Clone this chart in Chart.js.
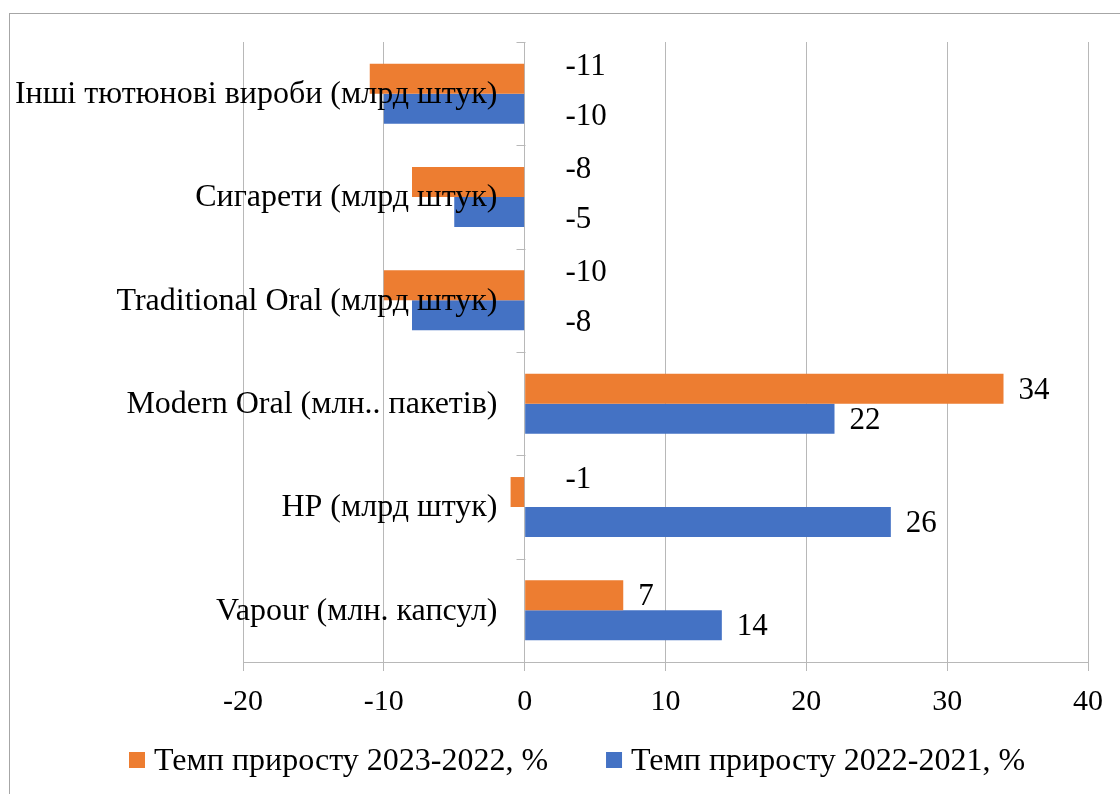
<!DOCTYPE html>
<html>
<head>
<meta charset="utf-8">
<script src="https://cdn.jsdelivr.net/npm/chart.js@4.4.1/dist/chart.umd.min.js"></script>
<style>
    html, body { margin: 0; padding: 0; background: #ffffff; }
    #wrap { width: 1120px; height: 794px; }
</style>
</head>
<body>
<div id="wrap"><canvas id="growthChart" width="1120" height="794"></canvas></div>
<script>
const categories = [
    "Інші тютюнові вироби (млрд штук)",
    "Сигарети (млрд штук)",
    "Traditional Oral (млрд штук)",
    "Modern Oral (млн.. пакетів)",
    "HP (млрд штук)",
    "Vapour (млн. капсул)"
];
const growth2023 = [-11, -8, -10, 34, -1, 7];
const growth2022 = [-10, -5, -8, 22, 26, 14];
const seriesNames = ["Темп приросту 2023-2022, %", "Темп приросту 2022-2021, %"];
const xMin = -20;
const xMax = 40;
const xStep = 10;

const FONT = '"Liberation Serif", "Times New Roman", serif';
const GRID = "#b8b8b8";

// draws the excel-like bits chart.js doesn't do by itself
const excelLook = {
    id: "excelLook",
    beforeDraw(chart) {
        const ctx = chart.ctx;
        ctx.save();
        ctx.strokeStyle = "#a6a6a6";
        ctx.lineWidth = 1;
        ctx.strokeRect(9.5, 13.5, 1200, 900);
        ctx.restore();
    },
    afterDraw(chart) {
        const ctx = chart.ctx;
        const area = chart.chartArea;
        const xs = chart.scales.x;
        const ys = chart.scales.y;
        const zeroX = Math.round(xs.getPixelForValue(0)) + 0.5;

        ctx.save();
        // category axis at zero with small ticks
        ctx.strokeStyle = GRID;
        ctx.lineWidth = 1;
        ctx.beginPath();
        const n = categories.length;
        for (let i = 0; i <= n; i++) {
            const y = Math.round(area.top + i * (area.bottom - area.top) / n) + 0.5;
            ctx.moveTo(zeroX - 9, y);
            ctx.lineTo(zeroX, y);
        }
        ctx.stroke();

        // category labels
        ctx.fillStyle = "#000000";
        ctx.font = "32px " + FONT;
        ctx.textAlign = "right";
        ctx.textBaseline = "middle";
        categories.forEach(function (label, i) {
            ctx.fillText(label, zeroX - 28, ys.getPixelForValue(i) + 1);
        });

        // data labels, negatives sit right of the zero line, pulled apart a bit
        ctx.font = "31px " + FONT;
        ctx.textAlign = "left";
        chart.data.datasets.forEach(function (ds, di) {
            const meta = chart.getDatasetMeta(di);
            meta.data.forEach(function (bar, i) {
                const v = ds.data[i];
                if (v >= 0) {
                    ctx.fillText(String(v), bar.x + 15, bar.y + 2);
                } else {
                    const shift = di === 0 ? -12 : 8;
                    ctx.fillText(String(v), zeroX + 40, bar.y + shift);
                }
            });
        });

        // legend
        ctx.font = "32px " + FONT;
        let lx = 129;
        const ly = 761;
        chart.data.datasets.forEach(function (ds) {
            ctx.fillStyle = ds.backgroundColor;
            ctx.fillRect(lx, ly - 9, 16, 16);
            ctx.fillStyle = "#000000";
            ctx.fillText(ds.label, lx + 25, ly + 1);
            lx += 25 + ctx.measureText(ds.label).width + 58;
        });
        ctx.restore();
    }
};

new Chart(document.getElementById("growthChart"), {
    type: "bar",
    data: {
        labels: categories,
        datasets: [
            {
                label: seriesNames[0],
                data: growth2023,
                backgroundColor: "#ED7D31",
                categoryPercentage: 0.58,
                barPercentage: 1.0
            },
            {
                label: seriesNames[1],
                data: growth2022,
                backgroundColor: "#4472C4",
                categoryPercentage: 0.58,
                barPercentage: 1.0
            }
        ]
    },
    options: {
        indexAxis: "y",
        responsive: false,
        animation: false,
        layout: { padding: { left: 243, right: 32, top: 42, bottom: 0 } },
        plugins: {
            legend: { display: false },
            tooltip: { enabled: false }
        },
        scales: {
            x: {
                min: xMin,
                max: xMax,
                ticks: {
                    stepSize: xStep,
                    color: "#000000",
                    font: { family: FONT, size: 30 },
                    padding: 13
                },
                grid: { color: GRID, tickLength: 9, tickColor: GRID },
                border: { color: GRID },
                afterFit: function (scale) { scale.height = 132; }
            },
            y: {
                display: false
            }
        }
    },
    plugins: [excelLook]
});
</script>
</body>
</html>
